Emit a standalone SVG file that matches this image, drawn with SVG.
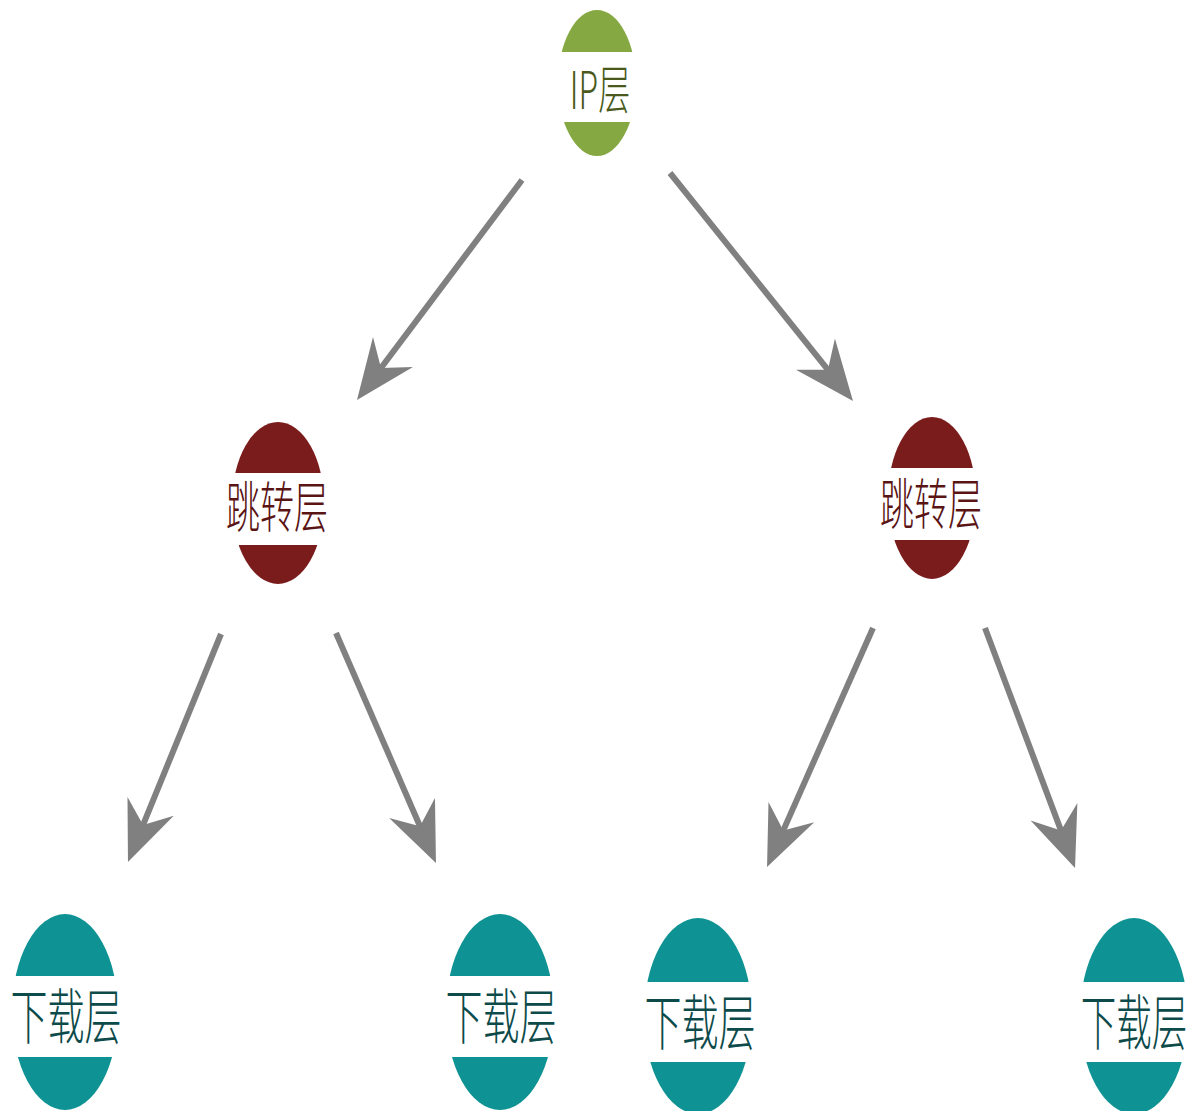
<svg xmlns="http://www.w3.org/2000/svg" width="1193" height="1111" viewBox="0 0 1193 1111">
<style>
.green{fill:#86a843}
.red{fill:#7b1c1c}
.teal{fill:#0e9293}
.band{fill:#ffffff}
.lbl{font-family:"Noto Sans CJK SC","Liberation Sans",sans-serif;font-weight:300;text-anchor:middle;dominant-baseline:central}
.tg{fill:#4a5a1c}
.tr{fill:#5a1414}
.tt{fill:#0d4a4a}
.conn{stroke:#808080;stroke-width:6;fill:none;marker-end:url(#ah)}
</style>
<defs>
<marker id="ah" markerUnits="userSpaceOnUse" markerWidth="62" markerHeight="52" viewBox="0 0 62 52" refX="30" refY="26" orient="auto">
<path d="M0,1 L60,26 L0,51 L20,26 z" fill="#808080"/>
</marker>
</defs>
<rect width="1193" height="1111" fill="#ffffff"/>
<g id="connectors">
<line class="conn" x1="522" y1="180" x2="375" y2="376"/>
<line class="conn" x1="670" y1="173" x2="834.2" y2="377.6"/>
<line class="conn" x1="221" y1="634" x2="139.3" y2="834.2"/>
<line class="conn" x1="336" y1="633" x2="424" y2="835.5"/>
<line class="conn" x1="873" y1="628" x2="779.2" y2="839.6"/>
<line class="conn" x1="985" y1="628" x2="1064.5" y2="839.9"/>
</g>
<g id="node-ip">
<ellipse class="green" cx="597" cy="83" rx="39" ry="73"/>
<rect class="band" x="555" y="52" width="84" height="70"/>
<text class="lbl tg" transform="translate(600,86) scale(1,1.62)" font-size="32">IP层</text>
</g>
<g id="node-jump-left">
<ellipse class="red" cx="278" cy="503" rx="46" ry="81"/>
<rect class="band" x="228" y="473" width="100" height="72"/>
<text class="lbl tr" transform="translate(277,503) scale(1,1.62)" font-size="34">跳转层</text>
</g>
<g id="node-jump-right">
<ellipse class="red" cx="932" cy="498" rx="44" ry="81"/>
<rect class="band" x="884" y="468" width="96" height="72"/>
<text class="lbl tr" transform="translate(931,500) scale(1,1.62)" font-size="34">跳转层</text>
</g>
<g id="node-dl-1">
<ellipse class="teal" cx="65" cy="1012" rx="53" ry="98"/>
<rect class="band" x="8" y="976" width="114" height="81"/>
<text class="lbl tt" transform="translate(66,1013) scale(1,1.62)" font-size="37">下载层</text>
</g>
<g id="node-dl-2">
<ellipse class="teal" cx="500" cy="1012" rx="54" ry="98"/>
<rect class="band" x="442" y="976" width="116" height="81"/>
<text class="lbl tt" transform="translate(501,1013) scale(1,1.62)" font-size="37">下载层</text>
</g>
<g id="node-dl-3">
<ellipse class="teal" cx="698" cy="1016" rx="54" ry="98"/>
<rect class="band" x="640" y="982" width="116" height="80"/>
<text class="lbl tt" transform="translate(700,1019) scale(1,1.62)" font-size="37">下载层</text>
</g>
<g id="node-dl-4">
<ellipse class="teal" cx="1134" cy="1016" rx="54" ry="98"/>
<rect class="band" x="1076" y="982" width="116" height="80"/>
<text class="lbl tt" transform="translate(1134,1019) scale(1,1.69)" font-size="35.5">下载层</text>
</g>
</svg>
